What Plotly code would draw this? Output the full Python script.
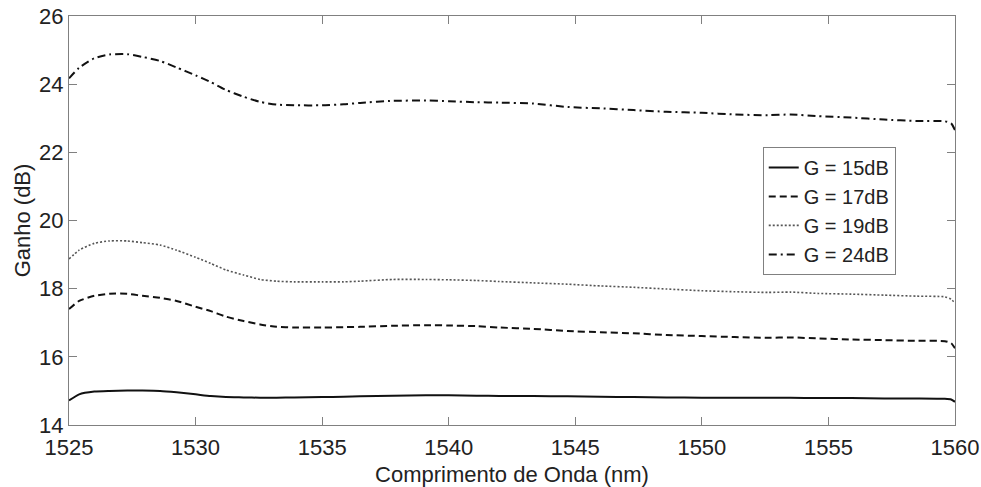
import plotly.graph_objects as go

wavelength = [1525.0, 1525.4, 1526.0, 1526.6, 1527.3, 1527.9, 1528.6, 1529.25, 1530.0, 1530.6,
              1531.2, 1531.9, 1532.55, 1533.2, 1533.9, 1535.0, 1535.85, 1536.5, 1537.8, 1539.1,
              1540.0, 1541.1, 1542.0, 1543.35, 1544.7, 1546.0, 1547.3, 1548.6, 1550.0, 1551.3,
              1552.6, 1553.5, 1554.6, 1555.9, 1557.2, 1558.5, 1559.6, 1559.85, 1560.0]

g15 = [14.72, 14.90, 14.98, 15.00, 15.01, 15.01, 15.00, 14.96, 14.90, 14.85,
       14.82, 14.81, 14.80, 14.80, 14.81, 14.82, 14.83, 14.84, 14.86, 14.87,
       14.87, 14.86, 14.85, 14.85, 14.84, 14.83, 14.82, 14.81, 14.80, 14.80,
       14.80, 14.80, 14.79, 14.79, 14.78, 14.78, 14.77, 14.75, 14.68]

g17 = [17.40, 17.64, 17.79, 17.85, 17.85, 17.79, 17.73, 17.64, 17.47, 17.34,
       17.18, 17.05, 16.95, 16.88, 16.86, 16.86, 16.87, 16.88, 16.91, 16.93,
       16.92, 16.90, 16.86, 16.82, 16.76, 16.72, 16.69, 16.64, 16.61, 16.58,
       16.56, 16.57, 16.54, 16.51, 16.49, 16.47, 16.46, 16.40, 16.25]

g19 = [18.87, 19.13, 19.33, 19.40, 19.40, 19.35, 19.28, 19.13, 18.92, 18.74,
       18.55, 18.40, 18.27, 18.22, 18.20, 18.20, 18.20, 18.22, 18.27, 18.27,
       18.26, 18.24, 18.21, 18.17, 18.13, 18.08, 18.04, 17.99, 17.94, 17.91,
       17.89, 17.90, 17.86, 17.84, 17.81, 17.78, 17.76, 17.69, 17.57]

g24 = [24.17, 24.48, 24.76, 24.87, 24.88, 24.80, 24.68, 24.49, 24.26, 24.06,
       23.83, 23.63, 23.48, 23.40, 23.38, 23.38, 23.41, 23.45, 23.51, 23.52,
       23.50, 23.47, 23.46, 23.43, 23.33, 23.29, 23.24, 23.19, 23.16, 23.11,
       23.09, 23.11, 23.06, 23.02, 22.96, 22.92, 22.91, 22.85, 22.65]

names = ["G = 15dB", "G = 17dB", "G = 19dB", "G = 24dB"]
x_ticks = [1525, 1530, 1535, 1540, 1545, 1550, 1555, 1560]
y_ticks = [14, 16, 18, 20, 22, 24, 26]

styles = [
    dict(color="#111111", width=2, dash="solid"),
    dict(color="#111111", width=2, dash="7px,4px"),
    dict(color="#555555", width=1.6, dash="2px,2px"),
    dict(color="#111111", width=2, dash="8px,4px,2px,4px"),
]

fig = go.Figure()
for name, ys, st in zip(names, [g15, g17, g19, g24], styles):
    fig.add_trace(go.Scatter(x=wavelength, y=ys, mode="lines", name=name,
                             line=dict(shape="spline", smoothing=0.6, **st)))

font = dict(family="Liberation Sans, Arial, sans-serif", size=22, color="#222222")
legend_font = dict(family="Liberation Sans, Arial, sans-serif", size=20, color="#222222")
axis_common = dict(showgrid=False, zeroline=False, showline=True, linecolor="#808080",
                   linewidth=1, mirror="ticks", ticks="inside", ticklen=8,
                   tickcolor="#808080", tickfont=font, automargin=False)

fig.update_layout(
    width=981, height=487,
    margin=dict(l=69, r=26, t=16, b=62),
    paper_bgcolor="white", plot_bgcolor="white",
    font=font,
    xaxis=dict(range=[1525, 1560], tickvals=x_ticks, ticklabelstandoff=3,
               title=dict(text="Comprimento de Onda (nm)", font=font, standoff=8),
               **axis_common),
    yaxis=dict(range=[14, 26], tickvals=y_ticks,
               title=dict(text="Ganho (dB)", font=font, standoff=2),
               **axis_common),
    legend=dict(x=0.783, y=0.68, xanchor="left", yanchor="top",
                bgcolor="white", bordercolor="#808080", borderwidth=1,
                font=legend_font, itemwidth=30, tracegroupgap=0),
    showlegend=True,
)

fig.write_html("out.html")
